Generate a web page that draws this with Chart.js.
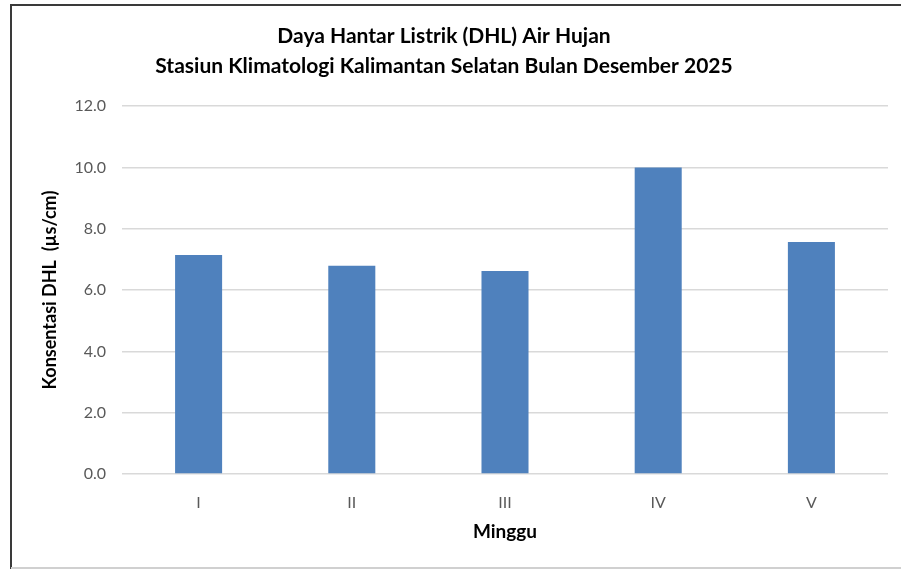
<!DOCTYPE html>
<html>
<head>
<meta charset="utf-8">
<script src="https://cdn.jsdelivr.net/npm/chart.js@4"></script>
<style>
  html, body { margin: 0; padding: 0; background: #fff; }
  #wrap { width: 901px; height: 569px; }
</style>
</head>
<body>
<div id="wrap"><canvas id="dhlChart" width="901" height="569"></canvas></div>
<script>
const weeks = ["I", "II", "III", "IV", "V"];
const dhlValues = [7.14, 6.79, 6.62, 10.0, 7.57];
const titleLines = ["Daya Hantar Listrik (DHL) Air Hujan", "Stasiun Klimatologi Kalimantan Selatan Bulan Desember 2025"];

const fontFamily = "Lato, 'Open Sans', sans-serif";

// white background plus the thin frame around the whole chart
const framePlugin = {
  id: "frame",
  beforeDraw(chart) {
    const ctx = chart.ctx;
    ctx.save();
    ctx.fillStyle = "#fff";
    ctx.fillRect(0, 0, chart.width, chart.height);
    ctx.restore();
  },
  afterDraw(chart) {
    const ctx = chart.ctx;
    ctx.save();
    ctx.strokeStyle = "#3a3a3a";
    ctx.lineWidth = 2;
    ctx.beginPath();
    ctx.moveTo(11, chart.height);
    ctx.lineTo(11, 5);
    ctx.lineTo(chart.width, 5);
    ctx.stroke();
    ctx.strokeStyle = "#d0d0d0";
    ctx.lineWidth = 2;
    ctx.beginPath();
    ctx.moveTo(11, chart.height - 1);
    ctx.lineTo(chart.width, chart.height - 1);
    ctx.stroke();
    ctx.restore();
  }
};

new Chart(document.getElementById("dhlChart"), {
  type: "bar",
  data: {
    labels: weeks,
    datasets: [{
      label: "DHL",
      data: dhlValues,
      backgroundColor: "#4f81bd",
      borderWidth: 0,
      categoryPercentage: 1,
      barPercentage: 0.307
    }]
  },
  options: {
    responsive: false,
    animation: false,
    layout: { padding: { top: 6, left: 0, right: 13, bottom: 0 } },
    plugins: {
      legend: { display: false },
      tooltip: { enabled: false },
      title: {
        display: true,
        text: titleLines,
        color: "#000",
        font: { family: fontFamily, size: 21, weight: "bold", lineHeight: 1.43 },
        padding: { top: 15, bottom: 25 }
      }
    },
    scales: {
      x: {
        grid: { display: false },
        border: { display: false },
        ticks: { color: "#595959", font: { family: fontFamily, size: 16 }, padding: 11 },
        title: {
          display: true,
          text: "Minggu",
          color: "#000",
          font: { family: fontFamily, size: 19, weight: "bold" },
          padding: { top: 0, bottom: 26 }
        },
        afterFit(scale) { scale.height = 95; }
      },
      y: {
        min: 0,
        max: 12,
        grid: { color: "#d9d9d9", lineWidth: 1.5, drawTicks: false },
        border: { display: false },
        ticks: {
          stepSize: 2,
          color: "#595959",
          font: { family: fontFamily, size: 16 },
          padding: 16,
          callback: v => v.toFixed(1)
        },
        title: {
          display: true,
          text: "Konsentasi DHL  (µs/cm)",
          color: "#000",
          font: { family: fontFamily, size: 18, weight: "bold" },
          padding: { top: 39, bottom: 0 }
        },
        afterFit(scale) { scale.width = 122; }
      }
    }
  },
  plugins: [framePlugin]
});
</script>
</body>
</html>
